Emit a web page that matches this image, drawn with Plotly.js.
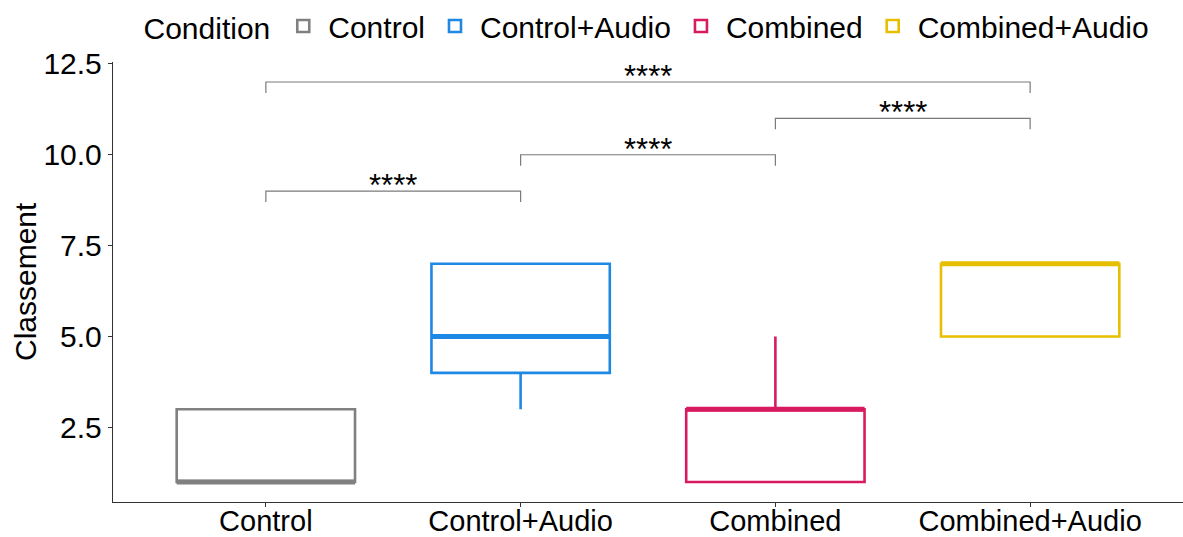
<!DOCTYPE html>
<html>
<head>
<meta charset="utf-8">
<script src="https://cdn.plot.ly/plotly-3.0.1.min.js"></script>
<style>html,body{margin:0;padding:0;background:#fff;}#chart{width:1183px;height:537px;}</style>
</head>
<body>
<div id="chart"></div>
<script>
// Data
const categories = ["Control", "Control+Audio", "Combined", "Combined+Audio"];
const colors = ["#808080", "#1E88E5", "#D81B60", "#E6BF00"];
const lowerWhisker = [1, 3, 1, 5];
const q1 = [1, 4, 1, 5];
const median = [1, 5, 3, 7];
const q3 = [3, 7, 3, 7];
const upperWhisker = [3, 7, 5, 7];
// Significance comparisons (group indices) and bracket heights
const cmpGroup1 = [0, 1, 2, 0];
const cmpGroup2 = [1, 2, 3, 3];
const cmpY = [9, 10, 11, 12];
const cmpLabel = ["****", "****", "****", "****"];
const yTitle = "Classement";

const boxWidth = 0.7;
const tip = 0.3;
const FONT = 'Liberation Sans, Arial, sans-serif';

const traces = [];
categories.forEach((c, i) => {
  traces.push({
    type: 'box',
    name: c,
    x: [i],
    q1: [q1[i]], median: [median[i]], q3: [q3[i]],
    lowerfence: [lowerWhisker[i]], upperfence: [upperWhisker[i]],
    width: boxWidth,
    line: {color: colors[i], width: 2.6},
    fillcolor: 'rgba(255,255,255,0)',
    whiskerwidth: 0,
    hoverinfo: 'skip'
  });
});
categories.forEach((c, i) => {
  traces.push({
    type: 'scatter', mode: 'lines',
    x: [i - boxWidth / 2, i + boxWidth / 2],
    y: [median[i], median[i]],
    line: {color: colors[i], width: 5},
    showlegend: false, hoverinfo: 'skip'
  });
});

const shapes = [];
const annotations = [];
cmpGroup1.forEach((g1, k) => {
  const g2 = cmpGroup2[k], yv = cmpY[k];
  shapes.push({type: 'path', xref: 'x', yref: 'y',
    path: `M ${g1},${yv - tip} L ${g1},${yv} L ${g2},${yv} L ${g2},${yv - tip}`,
    line: {color: '#7a7a7a', width: 1.2}});
  annotations.push({xref: 'x', yref: 'y', x: (g1 + g2) / 2, y: yv,
    text: cmpLabel[k], showarrow: false, yanchor: 'bottom', yshift: -14,
    font: {size: 31, color: '#000', family: FONT}});
});
// y-axis title placed like ggplot's
annotations.push({xref: 'paper', yref: 'paper', x: 0, xshift: -88, y: 0.5,
  text: yTitle, textangle: -90, showarrow: false, xanchor: 'center', yanchor: 'middle',
  font: {size: 30, color: '#000', family: FONT}});

const layout = {
  width: 1183, height: 537,
  margin: {l: 113, r: 0, t: 62, b: 35},
  paper_bgcolor: '#fff', plot_bgcolor: '#fff',
  font: {family: FONT, color: '#000', size: 30},
  showlegend: true,
  legend: {orientation: 'h', x: 0.5, xanchor: 'center', yref: 'container', y: 1.0, yanchor: 'top',
    title: {text: 'Condition', side: 'left', font: {size: 30}},
    font: {size: 30}, itemclick: false, itemdoubleclick: false, itemwidth: 40},
  xaxis: {type: 'linear', range: [-0.6, 3.6], tickvals: [0, 1, 2, 3], ticktext: categories,
    showgrid: false, zeroline: false, showline: true, linecolor: '#333', linewidth: 1.2,
    ticks: 'outside', ticklen: 4, tickcolor: '#333', tickfont: {size: 29, color: '#000'},
    ticklabelstandoff: -11},
  yaxis: {range: [0.45, 12.55], tickvals: [2.5, 5, 7.5, 10, 12.5], ticktext: ['2.5', '5.0', '7.5', '10.0', '12.5'],
    showgrid: false, zeroline: false, showline: true, linecolor: '#333', linewidth: 1.2,
    ticks: 'outside', ticklen: 4, tickcolor: '#333', tickfont: {size: 30, color: '#000'}},
  shapes: shapes, annotations: annotations, boxmode: 'overlay'
};

Plotly.newPlot('chart', traces, layout, {staticPlot: true, displayModeBar: false});
</script>
</body>
</html>
